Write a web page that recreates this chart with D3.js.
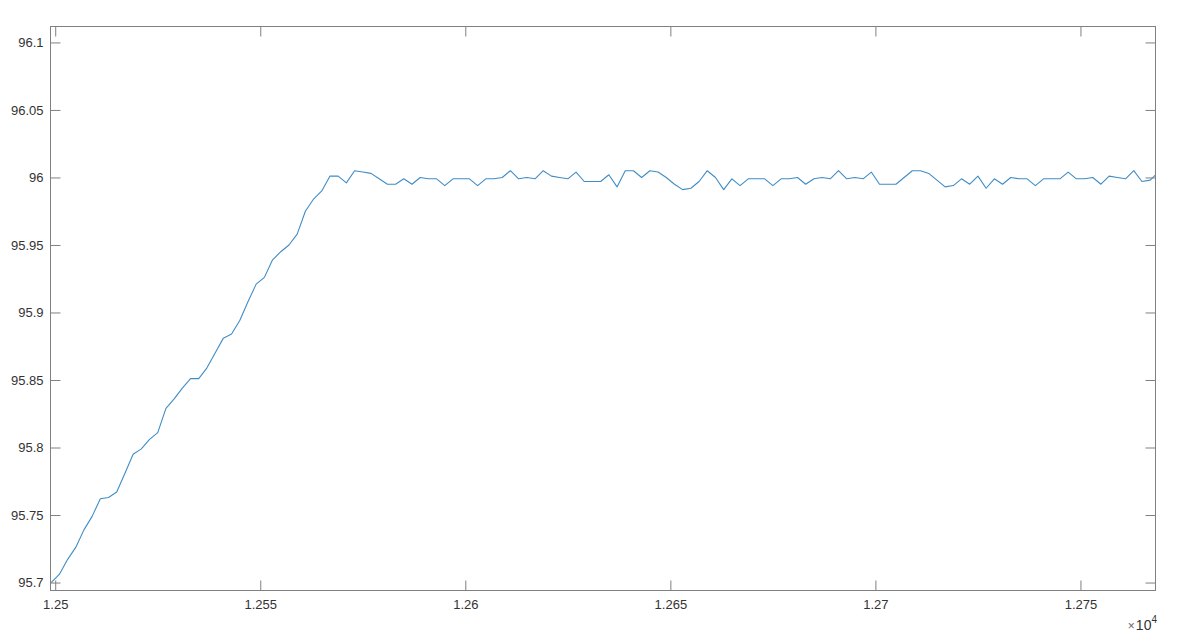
<!DOCTYPE html>
<html>
<head>
<meta charset="utf-8">
<script src="https://cdn.jsdelivr.net/npm/d3@7"></script>
<style>
  html, body { margin: 0; padding: 0; background: #ffffff; }
  svg { display: block; }
  text { font-family: "Liberation Sans", Arial, Helvetica, sans-serif; }
</style>
</head>
<body>
<svg id="chart" width="1180" height="640"></svg>
<script>
// ---- data ----
const xValues = [
  12499,12501,12503,12505,12507,12509,12511,12513,12515,12517,
  12519,12521,12523,12525,12527,12529,12531,12533,12535,12537,
  12539,12541,12543,12545,12547,12549,12551,12553,12555,12557,
  12559,12561,12563,12565,12567,12569,12571,12573,12575,12577,
  12579,12581,12583,12585,12587,12589,12591,12593,12595,12597,
  12599,12601,12603,12605,12607,12609,12611,12613,12615,12617,
  12619,12621,12623,12625,12627,12629,12631,12633,12635,12637,
  12639,12641,12643,12645,12647,12649,12651,12653,12655,12657,
  12659,12661,12663,12665,12667,12669,12671,12673,12675,12677,
  12679,12681,12683,12685,12687,12689,12691,12693,12695,12697,
  12699,12701,12703,12705,12707,12709,12711,12713,12715,12717,
  12719,12721,12723,12725,12727,12729,12731,12733,12735,12737,
  12739,12741,12743,12745,12747,12749,12751,12753,12755,12757,
  12759,12761,12763,12765,12767,12769
];
const yValues = [
  95.700,95.706,95.717,95.726,95.739,95.749,95.762,95.763,95.767,95.781,
  95.795,95.799,95.806,95.811,95.829,95.836,95.844,95.851,95.851,95.859,
  95.870,95.881,95.884,95.894,95.908,95.921,95.926,95.939,95.945,95.950,
  95.958,95.975,95.984,95.990,96.001,96.001,95.996,96.005,96.004,96.003,
  95.999,95.995,95.995,95.999,95.995,96.000,95.999,95.999,95.994,95.999,
  95.999,95.999,95.994,95.999,95.999,96.000,96.005,95.999,96.000,95.999,
  96.005,96.001,96.000,95.999,96.004,95.997,95.997,95.997,96.002,95.993,
  96.005,96.005,96.000,96.005,96.004,96.000,95.995,95.991,95.992,95.997,
  96.005,96.000,95.991,95.999,95.994,95.999,95.999,95.999,95.994,95.999,
  95.999,96.000,95.995,95.999,96.000,95.999,96.005,95.999,96.000,95.999,
  96.004,95.995,95.995,95.995,96.000,96.005,96.005,96.003,95.998,95.993,
  95.994,95.999,95.995,96.001,95.992,95.999,95.995,96.000,95.999,95.999,
  95.994,95.999,95.999,95.999,96.004,95.999,95.999,96.000,95.995,96.001,
  96.000,95.999,96.005,95.997,95.998,96.004
];
const xTicks = [12500, 12550, 12600, 12650, 12700, 12750];
const xTickLabels = ["1.25", "1.255", "1.26", "1.265", "1.27", "1.275"];
const yTicks = [95.7, 95.75, 95.8, 95.85, 95.9, 95.95, 96.0, 96.05, 96.1];
const yTickLabels = ["95.7", "95.75", "95.8", "95.85", "95.9", "95.95", "96", "96.05", "96.1"];
const xDomain = [12498.85, 12768.3];
const yDomain = [95.6941, 96.1118];

// ---- layout ----
const pLeft = 50.5, pRight = 1155.5, pTop = 26.5, pBottom = 590.5;
const axisColor = "#808080";
const textColor = "#333333";
const lineColor = "#3f8dc6";

const svg = d3.select("#chart");
const x = d3.scaleLinear().domain(xDomain).range([pLeft, pRight]);
const y = d3.scaleLinear().domain(yDomain).range([pBottom, pTop]);

svg.append("defs").append("clipPath").attr("id", "plotclip")
  .append("rect").attr("x", pLeft).attr("y", pTop)
  .attr("width", pRight - pLeft).attr("height", pBottom - pTop);

// data line
const pts = xValues.map((v, i) => [v, yValues[i]]);
svg.append("path")
  .datum(pts)
  .attr("clip-path", "url(#plotclip)")
  .attr("fill", "none")
  .attr("stroke", lineColor)
  .attr("stroke-width", 1.1)
  .attr("stroke-linejoin", "round")
  .attr("d", d3.line().x(d => x(d[0])).y(d => y(d[1])));

function styleAxis(g) {
  g.select(".domain").remove();
  g.selectAll(".tick line").attr("stroke", axisColor).attr("stroke-width", 1);
  g.selectAll(".tick text").attr("fill", textColor).style("font-size", "13px")
    .style("font-family", '"Liberation Sans", Arial, Helvetica, sans-serif');
}

const fmtX = (d) => xTickLabels[xTicks.indexOf(d)];
const fmtY = (d) => yTickLabels[yTicks.indexOf(d)];

svg.append("g").attr("transform", `translate(0,${pBottom})`)
  .call(d3.axisBottom(x).tickValues(xTicks).tickFormat(fmtX).tickSizeInner(-10).tickSizeOuter(0).tickPadding(9))
  .call(styleAxis);
svg.append("g").attr("transform", `translate(0,${pTop})`)
  .call(d3.axisTop(x).tickValues(xTicks).tickFormat("").tickSizeInner(-10).tickSizeOuter(0))
  .call(styleAxis);
svg.append("g").attr("transform", `translate(${pLeft},0)`)
  .call(d3.axisLeft(y).tickValues(yTicks).tickFormat(fmtY).tickSizeInner(-10).tickSizeOuter(0).tickPadding(7))
  .call(styleAxis);
svg.append("g").attr("transform", `translate(${pRight},0)`)
  .call(d3.axisRight(y).tickValues(yTicks).tickFormat("").tickSizeInner(-10).tickSizeOuter(0))
  .call(styleAxis);

// box
svg.append("rect")
  .attr("x", pLeft).attr("y", pTop)
  .attr("width", pRight - pLeft).attr("height", pBottom - pTop)
  .attr("fill", "none").attr("stroke", axisColor).attr("stroke-width", 1);

// exponent label
const ex = svg.append("text")
  .attr("x", 1157).attr("y", 630)
  .attr("text-anchor", "end")
  .attr("fill", textColor)
  .style("font-size", "14px");
ex.append("tspan").text("\u00d7").attr("fill", "#666666").style("font-size", "12px");
ex.append("tspan").text("10").attr("dx", 1);
ex.append("tspan").text("4").attr("dy", -7).style("font-size", "10px");
</script>
</body>
</html>
